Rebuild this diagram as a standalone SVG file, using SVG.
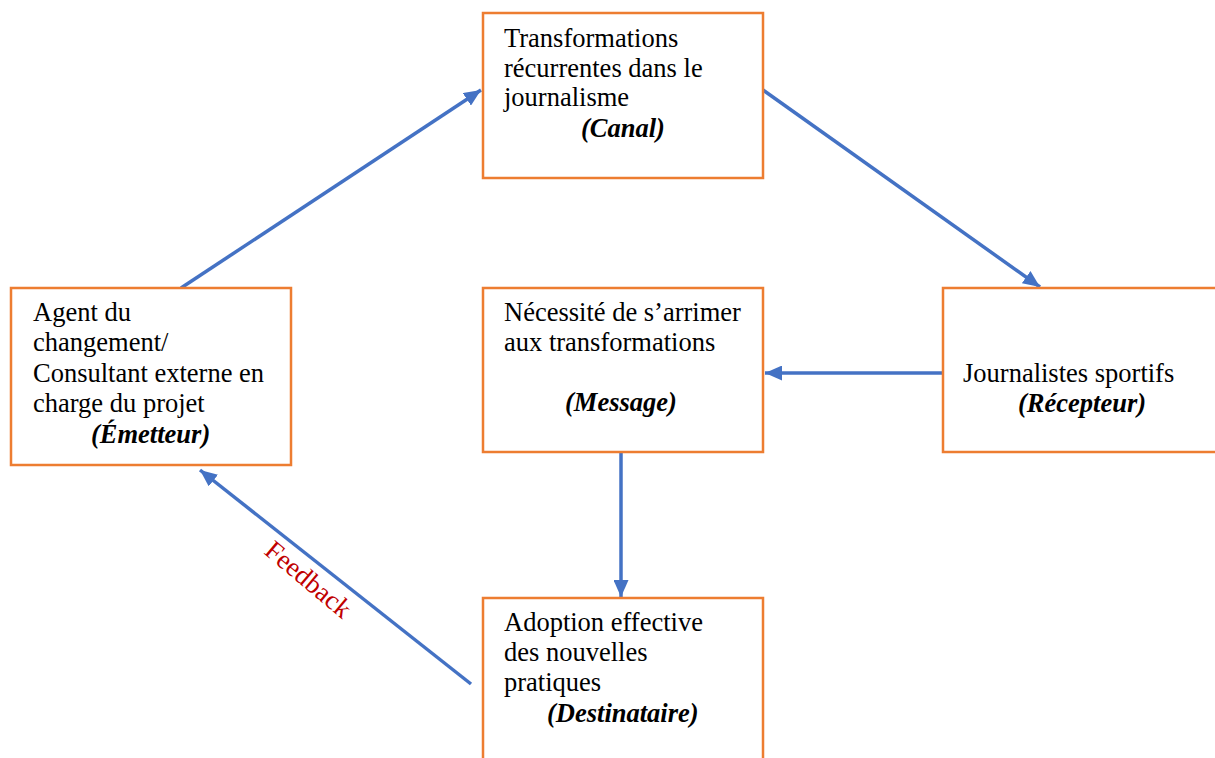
<svg xmlns="http://www.w3.org/2000/svg" width="1215" height="758" viewBox="0 0 1215 758">
<defs>
<style>
.box{fill:#fff;stroke:#ED7D31;stroke-width:2.5}
.t{font-family:"Liberation Serif","Times New Roman",serif;font-size:26.5px;fill:#000}
.b{font-weight:bold;font-style:italic}
.c{stroke:#4472C4;stroke-width:3.5;fill:none}
.fb{font-family:"Liberation Serif","Times New Roman",serif;font-size:27px;fill:#C00000}
</style>
<marker id="ah" viewBox="0 0 17 15" refX="17" refY="7.5" markerWidth="17" markerHeight="15" markerUnits="userSpaceOnUse" orient="auto">
<path d="M0,0 L17,7.5 L0,15 Z" fill="#4472C4"/>
</marker>
</defs>
<rect width="1215" height="758" fill="#fff"/>
<g id="connectors">
<line class="c" x1="181" y1="288" x2="481" y2="90" marker-end="url(#ah)"/>
<line class="c" x1="763" y1="90" x2="1040" y2="287" marker-end="url(#ah)"/>
<line class="c" x1="943" y1="373" x2="765" y2="373" marker-end="url(#ah)"/>
<line class="c" x1="621" y1="453" x2="621" y2="597" marker-end="url(#ah)"/>
<line class="c" x1="471" y1="684" x2="200" y2="470" marker-end="url(#ah)"/>
<text class="fb" transform="translate(263,553) rotate(40)">Feedback</text>
</g>
<g id="canal">
<rect class="box" x="483" y="13" width="280" height="165"/>
<text class="t" x="504" y="47">Transformations</text>
<text class="t" x="504" y="77">récurrentes dans le</text>
<text class="t" x="504" y="106">journalisme</text>
<text class="t b" x="581" y="137">(Canal)</text>
</g>
<g id="emetteur">
<rect class="box" x="11" y="288" width="280" height="177"/>
<text class="t" x="33" y="321">Agent du</text>
<text class="t" x="33" y="351">changement/</text>
<text class="t" x="33" y="382">Consultant externe en</text>
<text class="t" x="33" y="412">charge du projet</text>
<text class="t b" x="91" y="443">(Émetteur)</text>
</g>
<g id="message">
<rect class="box" x="483" y="288" width="280" height="164"/>
<text class="t" x="504" y="321">Nécessité de s’arrimer</text>
<text class="t" x="504" y="351">aux transformations</text>
<text class="t b" x="565" y="411">(Message)</text>
</g>
<g id="recepteur">
<rect class="box" x="943" y="288" width="290" height="164"/>
<text class="t" x="963" y="382">Journalistes sportifs</text>
<text class="t b" x="1018" y="412">(Récepteur)</text>
</g>
<g id="destinataire">
<rect class="box" x="483" y="598" width="280" height="180"/>
<text class="t" x="504" y="631">Adoption effective</text>
<text class="t" x="504" y="661">des nouvelles</text>
<text class="t" x="504" y="691">pratiques</text>
<text class="t b" x="547" y="722">(Destinataire)</text>
</g>
</svg>
